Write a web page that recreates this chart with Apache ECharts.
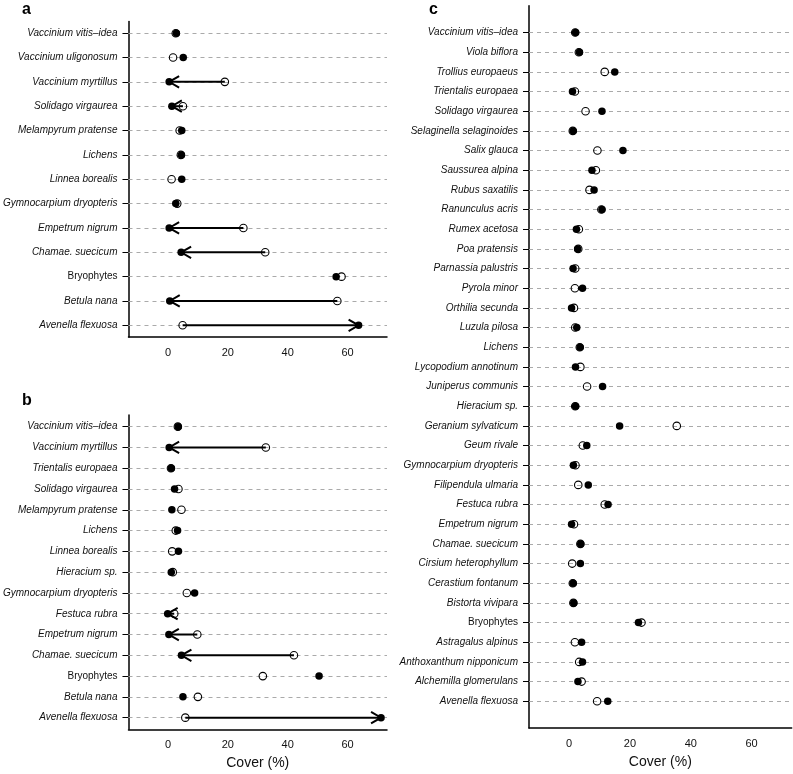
<!DOCTYPE html>
<html><head><meta charset="utf-8">
<script src="https://cdn.jsdelivr.net/npm/echarts@6/dist/echarts.min.js"></script>
<style>html,body{margin:0;padding:0;background:#fff}#c{width:793px;height:774px}</style>
</head><body><div id="c"></div>
<script>
// ---------- data ----------
const xTicks = [0, 20, 40, 60];

const aSpecies = ['Vaccinium vitis–idea','Vaccinium uligonosum','Vaccinium myrtillus','Solidago virgaurea','Melampyrum pratense','Lichens','Linnea borealis','Gymnocarpium dryopteris','Empetrum nigrum','Chamae. suecicum','Bryophytes','Betula nana','Avenella flexuosa'];
const aOpen   = [2.6, 1.7, 19.0, 5.0, 3.9, 4.3, 1.2, 3.1, 25.2, 32.5, 58.0, 56.6, 4.9];
const aFilled = [2.8, 5.1, 0.4, 1.3, 4.6, 4.5, 4.6, 2.6, 0.4, 4.4, 56.2, 0.6, 63.7];
const aArrow  = [0, 0, 1, 1, 0, 0, 0, 0, 1, 1, 0, 1, 1];

const bSpecies = ['Vaccinium vitis–idea','Vaccinium myrtillus','Trientalis europaea','Solidago virgaurea','Melampyrum pratense','Lichens','Linnea borealis','Hieracium sp.','Gymnocarpium dryopteris','Festuca rubra','Empetrum nigrum','Chamae. suecicum','Bryophytes','Betula nana','Avenella flexuosa'];
const bOpen   = [3.3, 32.7, 1.0, 3.5, 4.5, 2.6, 1.4, 1.6, 6.3, 2.1, 9.8, 42.1, 31.7, 10.0, 5.8];
const bFilled = [3.4, 0.4, 1.1, 2.2, 1.3, 3.2, 3.5, 1.1, 8.9, -0.1, 0.3, 4.5, 50.5, 5.0, 71.2];
const bArrow  = [0, 1, 0, 0, 0, 0, 0, 0, 0, 1, 1, 1, 0, 0, 1];

const cSpecies = ['Vaccinium vitis–idea','Viola biflora','Trollius europaeus','Trientalis europaea','Solidago virgaurea','Selaginella selaginoides','Salix glauca','Saussurea alpina','Rubus saxatilis','Ranunculus acris','Rumex acetosa','Poa pratensis','Parnassia palustris','Pyrola minor','Orthilia secunda','Luzula pilosa','Lichens','Lycopodium annotinum','Juniperus communis','Hieracium sp.','Geranium sylvaticum','Geum rivale','Gymnocarpium dryopteris','Filipendula ulmaria','Festuca rubra','Empetrum nigrum','Chamae. suecicum','Cirsium heterophyllum','Cerastium fontanum','Bistorta vivipara','Bryophytes','Astragalus alpinus','Anthoxanthum nipponicum','Alchemilla glomerulans','Avenella flexuosa'];
const cOpen   = [2.0, 3.2, 11.7, 1.9, 5.4, 1.2, 9.3, 8.8, 6.7, 10.6, 3.2, 3.0, 2.0, 1.9, 1.6, 2.0, 3.5, 3.7, 5.9, 2.0, 35.4, 4.5, 2.1, 3.0, 11.7, 1.6, 3.7, 1.0, 1.2, 1.4, 23.8, 1.9, 3.3, 4.1, 9.2];
const cFilled = [2.1, 3.4, 15.0, 1.1, 10.8, 1.3, 17.7, 7.5, 8.2, 10.8, 2.4, 2.8, 1.3, 4.4, 0.8, 2.5, 3.6, 2.1, 11.0, 2.1, 16.6, 5.8, 1.4, 6.3, 12.8, 0.8, 3.8, 3.7, 1.3, 1.5, 22.8, 4.1, 4.4, 2.9, 12.7];
const cArrow  = cSpecies.map(() => 0);

const nonItalic = ['Bryophytes'];

// ---------- chart ----------
const FF = 'Liberation Sans, Arial, Helvetica, sans-serif';
const chart = echarts.init(document.getElementById('c'), null, {renderer: 'canvas'});

const grids = [
  {left: 123.5, top: 21.5, width: 263.5, height: 315.5},
  {left: 123.5, top: 415, width: 263.5, height: 314.3},
  {left: 529, top: 5.8, width: 262.7, height: 725.2}
];

function xAx(gi, showName) {
  return {
    gridIndex: gi, type: 'value', min: -13.2, max: 73.2,
    axisLine: {show: true, onZero: false, lineStyle: {color: '#000', width: 1.5}},
    axisTick: {show: false},
    splitLine: {show: false},
    axisLabel: {customValues: xTicks, fontSize: 11, margin: 10, color: '#111', fontFamily: FF},
    name: showName ? 'Cover (%)' : '', nameLocation: 'middle', nameGap: 27,
    nameTextStyle: {fontSize: 14, color: '#111', fontFamily: FF}
  };
}
function yAx(gi, species) {
  const n = species.length, ext = 0.04 * (n - 1);
  const vals = species.map((_, i) => i + 1);
  return {
    gridIndex: gi, type: 'value', min: 1 - ext, max: n + ext,
    axisLine: {show: true, onZero: false, lineStyle: {color: '#000', width: 1.5}},
    axisTick: {show: true, customValues: vals, length: 6, lineStyle: {color: '#000', width: 1}},
    splitLine: {show: false},
    axisLabel: {
      customValues: vals, margin: 11,
      formatter: v => {
        const name = species[n - Math.round(v)];
        return nonItalic.includes(name) ? '{u|' + name + '}' : '{i|' + name + '}';
      },
      rich: {
        i: {fontStyle: 'italic', fontSize: 10, color: '#111', fontFamily: FF},
        u: {fontSize: 10, color: '#111', fontFamily: FF}
      }
    }
  };
}

function panelSeries(gi, species, open, filled, arrow) {
  const n = species.length;
  const vals = species.map((_, i) => i + 1);
  const arrows = [];
  open.forEach((o, i) => { if (arrow[i]) arrows.push([o, filled[i], n - i]); });
  return [
    {
      type: 'scatter', xAxisIndex: gi, yAxisIndex: gi, data: [], z: 1, silent: true,
      markLine: {
        silent: true, z: 1, symbol: ['none', 'none'], label: {show: false}, animation: false,
        lineStyle: {type: [4, 4], color: '#aaa', width: 1},
        data: vals.map(v => ({yAxis: v}))
      }
    },
    {
      type: 'custom', xAxisIndex: gi, yAxisIndex: gi, z: 3, silent: true,
      encode: {x: [0, 1], y: 2},
      data: arrows,
      renderItem(params, api) {
        const p1 = api.coord([api.value(0), api.value(2)]);
        const p2 = api.coord([api.value(1), api.value(2)]);
        const d = p2[0] > p1[0] ? 1 : -1;
        const L = 11.5, ang = Math.PI / 6;
        const hx = p2[0] - d * L * Math.cos(ang), hy = L * Math.sin(ang);
        return {type: 'group', children: [
          {type: 'line', shape: {x1: p1[0], y1: p1[1], x2: p2[0], y2: p2[1]}, style: {stroke: '#000', lineWidth: 2}},
          {type: 'polyline', shape: {points: [[hx, p2[1] - hy], [p2[0], p2[1]], [hx, p2[1] + hy]]}, style: {stroke: '#000', lineWidth: 2, fill: null}}
        ]};
      }
    },
    {
      type: 'scatter', xAxisIndex: gi, yAxisIndex: gi, z: 4, silent: true,
      symbol: 'circle', symbolSize: 7.5,
      itemStyle: {color: 'rgba(0,0,0,0)', borderColor: '#000', borderWidth: 1.1, opacity: 1},
      data: open.map((v, i) => [v, n - i])
    },
    {
      type: 'scatter', xAxisIndex: gi, yAxisIndex: gi, z: 5, silent: true,
      symbol: 'circle', symbolSize: 7.5,
      itemStyle: {color: '#000', opacity: 1},
      data: filled.map((v, i) => [v, n - i])
    }
  ];
}

const titleStyle = {fontSize: 16, fontWeight: 'bold', color: '#000', fontFamily: FF};
chart.setOption({
  animation: false,
  backgroundColor: '#fff',
  title: [
    {text: 'a', left: 22, top: 2, textStyle: titleStyle, padding: 0},
    {text: 'b', left: 22, top: 393, textStyle: titleStyle, padding: 0},
    {text: 'c', left: 429, top: 2, textStyle: titleStyle, padding: 0}
  ],
  grid: grids,
  xAxis: [xAx(0, false), xAx(1, true), xAx(2, true)],
  yAxis: [yAx(0, aSpecies), yAx(1, bSpecies), yAx(2, cSpecies)],
  series: [].concat(
    panelSeries(0, aSpecies, aOpen, aFilled, aArrow),
    panelSeries(1, bSpecies, bOpen, bFilled, bArrow),
    panelSeries(2, cSpecies, cOpen, cFilled, cArrow)
  )
});
</script>
</body></html>
